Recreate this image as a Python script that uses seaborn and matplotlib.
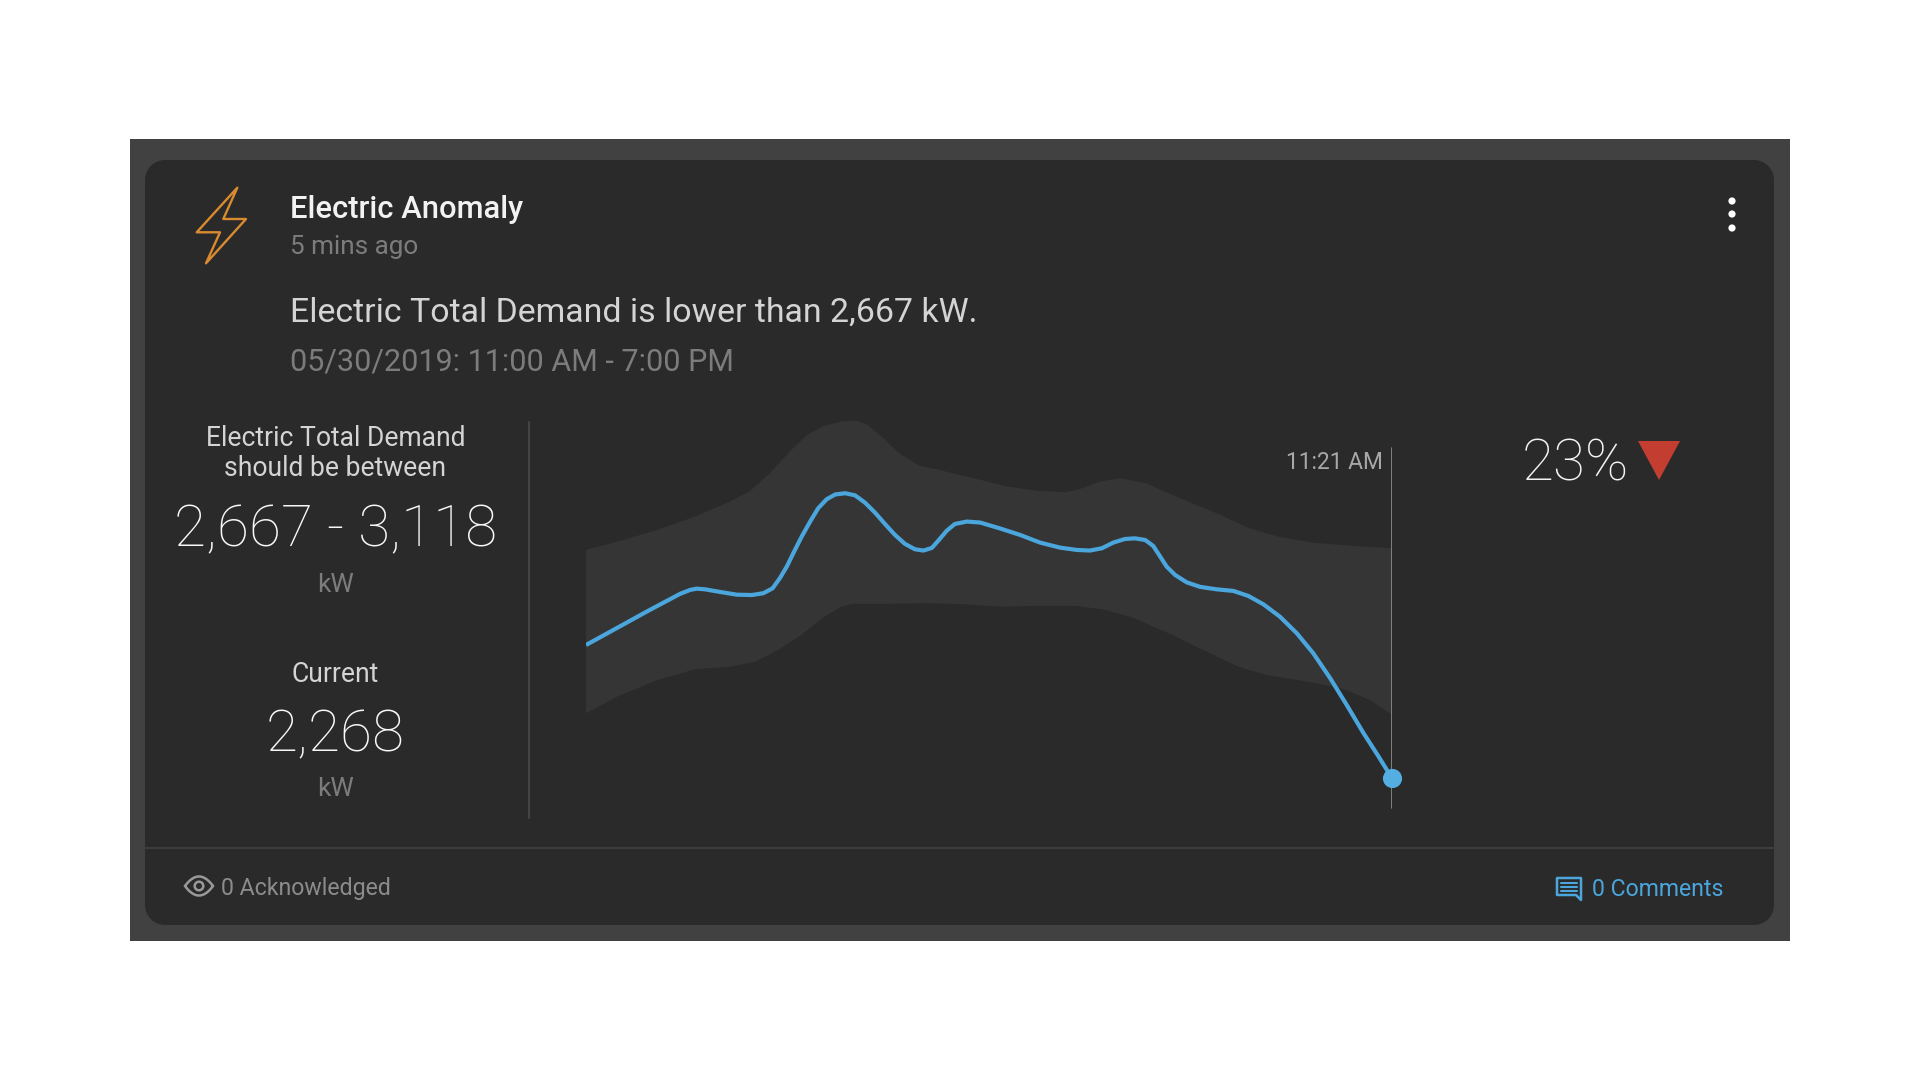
import numpy as np
import pandas as pd
import matplotlib
matplotlib.use('Agg')
import matplotlib.pyplot as plt
import seaborn as sns
from matplotlib.patches import Rectangle, Polygon, Circle

sns.set_theme(style='white')
plt.rcParams['font.family'] = ['Roboto', 'DejaVu Sans']

# minutes after 11:00 AM and demand in kW
line_min = [0.00, 0.71, 1.58, 2.45, 2.71, 2.88, 3.10, 3.49, 3.93, 4.32, 4.62, 4.86, 5.05, 5.23, 5.40,
            5.62, 5.84, 6.05, 6.27, 6.49, 6.75, 7.01, 7.27, 7.53, 7.79, 8.05, 8.31, 8.57, 8.79, 9.01,
            9.18, 9.40, 9.61, 9.92, 10.27, 10.77, 11.31, 11.83, 12.35, 12.78, 13.13, 13.44, 13.74,
            14.04, 14.30, 14.57, 14.78, 14.96, 15.13, 15.35, 15.65, 16.00, 16.43, 16.87, 17.26,
            17.65, 18.08, 18.52, 18.95, 19.39, 19.82, 20.25, 20.64, 21.00]
line_kw = [3086, 3178, 3291, 3400, 3424, 3432, 3428, 3412, 3395, 3393, 3404, 3434, 3496, 3567, 3649,
           3752, 3844, 3926, 3981, 4010, 4018, 4005, 3960, 3899, 3829, 3762, 3707, 3674, 3666, 3682,
           3727, 3788, 3829, 3844, 3838, 3803, 3762, 3715, 3684, 3670, 3666, 3680, 3715,
           3737, 3741, 3731, 3694, 3629, 3567, 3516, 3471, 3443, 3428, 3418, 3387,
           3336, 3260, 3158, 3035, 2882, 2718, 2548, 2405, 2268]

upper_min = [0.00, 0.82, 1.87, 2.84, 3.66, 4.26, 4.79, 5.31, 5.76, 6.21, 6.66, 7.03, 7.33, 7.70, 8.15, 8.68,
             9.20, 10.10, 10.99, 11.74, 12.49, 12.94, 13.39, 13.91, 14.58, 15.48, 16.53, 17.28, 18.02,
             18.92, 19.97, 21.00]
upper_kw = [3670, 3721, 3793, 3875, 3957, 4028, 4141, 4274, 4376, 4432, 4458, 4464, 4438, 4366, 4264, 4188,
            4161, 4110, 4059, 4033, 4024, 4049, 4090, 4110, 4080, 3987, 3885, 3803, 3752,
            3715, 3695, 3680]
lower_min = [0.00, 0.82, 1.87, 2.84, 3.81, 4.41, 5.01, 5.61, 6.21, 6.66, 6.95, 7.85, 8.90, 9.80, 10.84, 11.74,
             12.79, 13.54, 14.28, 15.18, 16.08, 16.98, 17.72, 18.77, 19.67, 20.42, 21.00]
lower_kw = [2667, 2770, 2872, 2937, 2954, 2984, 3056, 3148, 3261, 3322, 3339, 3339, 3343, 3337, 3322, 3326,
            3326, 3302, 3251, 3158, 3056, 2954, 2903, 2862, 2821, 2749, 2657]

BLUE = '#4aa6dc'
CARD = '#2a2a2a'
GREY = '#7c7c7c'
LABEL = '#d4d4d4'

fig = plt.figure(figsize=(19.2, 10.8), dpi=100, facecolor='white')

# whole figure axes in pixels for the card and its texts
bg = fig.add_axes([0, 0, 1, 1])
bg.set_xlim(0, 1920)
bg.set_ylim(1080, 0)
bg.axis('off')

bg.add_patch(Rectangle((130, 139), 1660, 802, fc='#414141', ec='none'))
bg.add_patch(Rectangle((145, 180), 1629, 725, fc=CARD, ec='none'))
bg.add_patch(Rectangle((165, 160), 1589, 765, fc=CARD, ec='none'))
for cx, cy in [(165, 180), (1754, 180), (165, 905), (1754, 905)]:
    bg.add_patch(Circle((cx, cy), 20, fc=CARD, ec='none'))
bg.plot([145, 1774], [848, 848], color='#3d3d3d', lw=1.5)
bg.plot([529, 529], [422, 818], color='#444444', lw=1.5)

# bolt icon
bg.add_patch(Polygon([(237.3, 187.7), (196.7, 232.3), (220, 232.3), (206, 263.3), (246, 219), (223.3, 219)],
                     closed=True, fc='none', ec='#d98b30', lw=1.7, joinstyle='round'))

# menu dots
for dy in [201, 214, 228]:
    bg.add_patch(Circle((1732, dy), 3.6, fc='white', ec='none'))

bg.text(290, 209, 'Electric Anomaly', color='#f2f2f2', fontsize=22.2, weight='medium', va='center')
bg.text(290, 247, '5 mins ago', color=GREY, fontsize=18.8, va='center')
bg.text(290, 313, 'Electric Total Demand is lower than 2,667 kW.', color=LABEL, fontsize=24.4, va='center')
bg.text(290, 362, '05/30/2019: 11:00 AM - 7:00 PM', color=GREY, fontsize=22, va='center')

bg.text(335.5, 439, 'Electric Total Demand', color=LABEL, fontsize=19.1, ha='center', va='center')
bg.text(335.5, 469, 'should be between', color=LABEL, fontsize=19.1, ha='center', va='center')
bg.text(335.5, 531, '2,667 - 3,118', color='#f8f8f8', fontsize=42, weight='light', ha='center', va='center')
bg.text(335.5, 585, 'kW', color=GREY, fontsize=19, ha='center', va='center')
bg.text(335.5, 674, 'Current', color=LABEL, fontsize=19.1, ha='center', va='center')
bg.text(335.5, 736, '2,268', color='#f8f8f8', fontsize=42, weight='light', ha='center', va='center')
bg.text(335.5, 789, 'kW', color=GREY, fontsize=19, ha='center', va='center')

bg.text(1522, 465, '23%', color='#f4f4f4', fontsize=42, weight='light', va='center')
bg.add_patch(Polygon([(1638, 441), (1680, 441), (1659, 480)], closed=True, fc='#c43d31', ec='none'))

# eye icon
t = np.linspace(-1, 1, 41)
bg.add_patch(Polygon(np.r_[np.c_[199 + 14 * t, 886 - 9.5 * (1 - t ** 2)],
                           np.c_[199 - 14 * t, 886 + 9.5 * (1 - t ** 2)]],
                     closed=True, fc='none', ec='#999999', lw=1.8))
bg.add_patch(Circle((199, 886), 4.3, fc='none', ec='#999999', lw=1.8))
bg.text(221, 888, '0 Acknowledged', color='#8c8c8c', fontsize=16.7, va='center')

# comment icon
bg.add_patch(Polygon([(1557, 878), (1581, 878), (1581, 900), (1576, 895), (1557, 895)], closed=True,
                     fc='none', ec=BLUE, lw=1.8, joinstyle='round'))
for ly in [882.5, 886.5, 890.5]:
    bg.plot([1561, 1577], [ly, ly], color=BLUE, lw=1.5)
bg.text(1592, 890, '0 Comments', color=BLUE, fontsize=16.6, va='center')

# chart axes span 586-1392 px across and 410-810 px down
ax = fig.add_axes([586 / 1920, 270 / 1080, 806 / 1920, 400 / 1080])
ax.patch.set_alpha(0)
ax.fill(upper_min + lower_min[::-1], upper_kw + lower_kw[::-1], color='#353535', lw=0, zorder=1)
ax.axvline(line_min[-1], ymin=0.005, ymax=0.905, color='#8f8f8f', lw=1.2, zorder=2)
df = pd.DataFrame({'minute': line_min, 'kw': line_kw})
sns.lineplot(data=df, x='minute', y='kw', ax=ax, color=BLUE, lw=3, sort=False, zorder=3,
             solid_joinstyle='round', solid_capstyle='butt')
sns.scatterplot(x=line_min[-1:], y=line_kw[-1:], ax=ax, color='#55aee2', s=190, linewidth=0, zorder=4, clip_on=False)
ax.set_xlim(0, 21)
ax.set_ylim(2073, 4529)
ax.set_xlabel('')
ax.set_ylabel('')
ax.set_xticks([])
ax.set_yticks([])
sns.despine(ax=ax, left=True, bottom=True)
ax.text(20.75, 4204, '11:21 AM', color='#a8a8a8', fontsize=16.4, ha='right', va='center')

fig.savefig('out.png', dpi=100, facecolor='white')
